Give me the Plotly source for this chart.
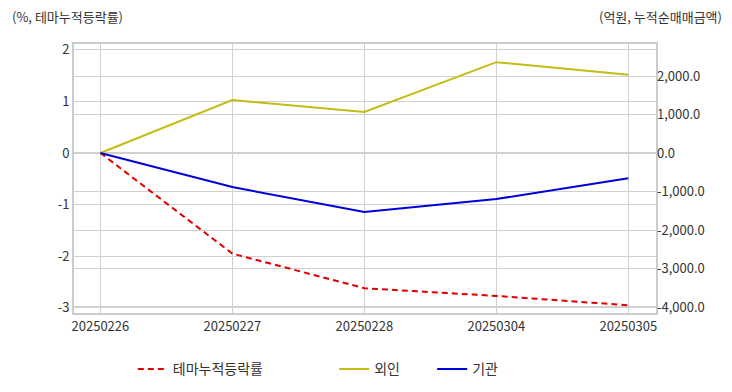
import plotly.graph_objects as go

dates = ["20250226", "20250227", "20250228", "20250304", "20250305"]
theme_rate = [0.0, -1.95, -2.62, -2.77, -2.95]
foreign = [0.0, 1375.0, 1065.0, 2360.0, 2030.0]
institution = [0.0, -885.0, -1530.0, -1195.0, -655.0]

left_ticks = [-3, -2, -1, 0, 1, 2]
left_labels = ["-3", "-2", "-1", "0", "1", "2"]
right_ticks = [-4000, -3000, -2000, -1000, 0, 1000, 2000]
right_labels = ["-4,000.0", "-3,000.0", "-2,000.0", "-1,000.0", "0.0", "1,000.0", "2,000.0"]

FONT = "Noto Sans CJK KR"
GRID = "#d0d0d0"
FRAME = "#cccccc"

fig = go.Figure()
fig.add_trace(go.Scatter(x=dates, y=theme_rate, name="테마누적등락률", mode="lines",
                         line=dict(color="#e00000", width=2, dash="6px,4px"),
                         legend="legend", yaxis="y"))
fig.add_trace(go.Scatter(x=dates, y=foreign, name="외인", mode="lines",
                         line=dict(color="#c4bc14", width=2),
                         legend="legend2", yaxis="y2"))
fig.add_trace(go.Scatter(x=dates, y=institution, name="기관", mode="lines",
                         line=dict(color="#0000d8", width=2),
                         legend="legend2", yaxis="y2"))

fig.update_layout(
    width=732, height=392,
    margin=dict(l=74, r=76, t=44, b=79, autoexpand=False),
    paper_bgcolor="white", plot_bgcolor="white",
    font=dict(family=FONT, size=13, color="#333"),
    xaxis=dict(type="category", range=[-0.2, 4.21], showgrid=True, gridcolor=GRID,
               gridwidth=1, showline=True, linecolor=FRAME, linewidth=2, mirror=True,
               ticks="", tickfont=dict(size=13, color="#333"), automargin=False),
    yaxis=dict(range=[-3.1, 2.11], tickvals=left_ticks, ticktext=left_labels,
               showgrid=True, gridcolor=GRID, zeroline=False,
               showline=True, linecolor=FRAME, linewidth=2, mirror=True,
               ticks="", tickfont=dict(size=13, color="#333"), automargin=False),
    yaxis2=dict(range=[-4156, 2832], tickvals=right_ticks, ticktext=right_labels,
                overlaying="y", side="right", showgrid=True, gridcolor=GRID,
                zeroline=False, showline=False, ticks="",
                tickfont=dict(size=13, color="#333"), automargin=False),
    legend=dict(orientation="h", x=0.101, y=-0.15, xanchor="left", yanchor="top",
                font=dict(size=14, color="#333"), bgcolor="rgba(0,0,0,0)"),
    legend2=dict(orientation="h", x=0.447, y=-0.15, xanchor="left", yanchor="top",
                 entrywidth=53,
                 font=dict(size=14, color="#333"), bgcolor="rgba(0,0,0,0)"),
    annotations=[
        dict(text="(%, 테마누적등락률)", xref="paper", yref="paper", x=-0.11, y=1.0,
             xanchor="left", yanchor="middle", yshift=28, showarrow=False,
             font=dict(size=13, color="#333")),
        dict(text="(억원, 누적순매매금액)", xref="paper", yref="paper", x=1.116, y=1.0,
             xanchor="right", yanchor="middle", yshift=28, showarrow=False,
             font=dict(size=13, color="#333")),
    ],
    showlegend=True,
)

fig.write_html("out.html", config={"displayModeBar": False},
               post_script="document.body.style.margin='0';")
